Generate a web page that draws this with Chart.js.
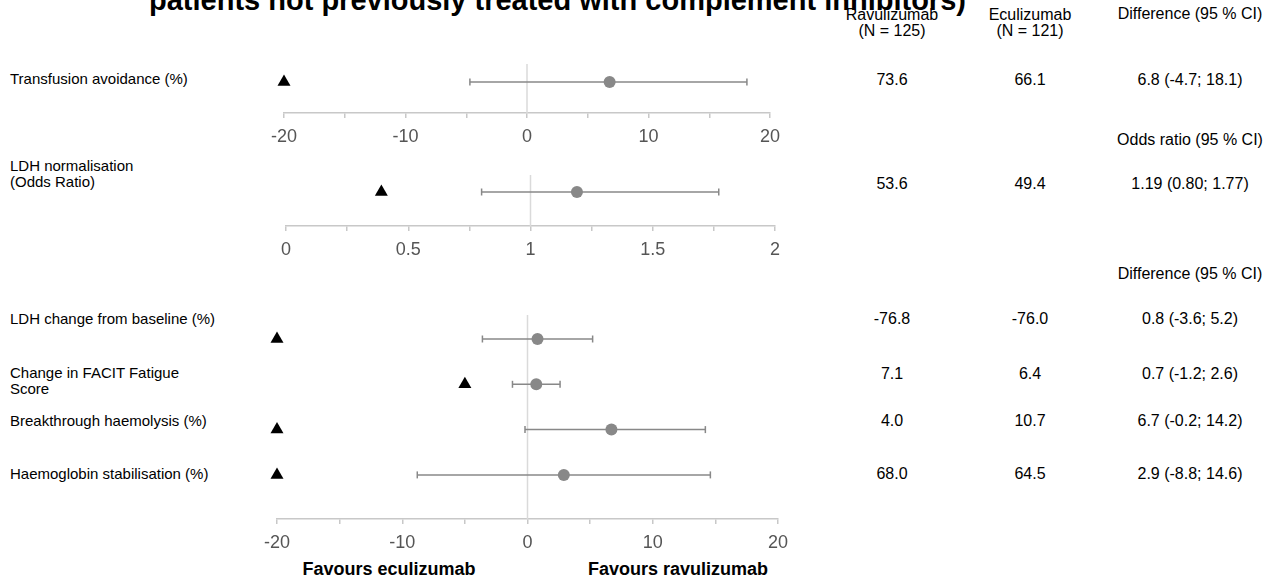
<!DOCTYPE html>
<html>
<head>
<meta charset="utf-8">
<script src="https://cdn.jsdelivr.net/npm/chart.js@4.4.1/dist/chart.umd.min.js"></script>
<style>
  body { margin: 0; width: 1263px; height: 579px; overflow: hidden; background: #fff; position: relative;
         font-family: "Liberation Sans", Arial, sans-serif; color: #000; }
  .txt { position: absolute; white-space: nowrap; font-size: 15px; line-height: 16px; }
  .mid { transform: translateX(-50%); text-align: center; font-size: 16px; }
  .bold { font-weight: bold; }
  canvas { position: absolute; }
  #title { position: absolute; left: 149px; top: -14px; font-size: 29px; line-height: 29px; font-weight: bold; white-space: nowrap; }
</style>
</head>
<body>
<div id="title">patients not previously treated with complement inhibitors)</div>
<canvas id="panel0"></canvas>
<canvas id="panel1"></canvas>
<canvas id="panel2"></canvas>
<script>
/* Data */
var outcomes = ['Transfusion avoidance (%)', 'LDH normalisation\n(Odds Ratio)', 'LDH change from baseline (%)',
  'Change in FACIT Fatigue\nScore', 'Breakthrough haemolysis (%)', 'Haemoglobin stabilisation (%)'];
var ravulizumab = [73.6, 53.6, -76.8, 7.1, 4.0, 68.0];
var eculizumab = [66.1, 49.4, -76.0, 6.4, 10.7, 64.5];
var estimates = [6.8, 1.19, 0.8, 0.7, 6.7, 2.9];
var ciLower = [-4.7, 0.80, -3.6, -1.2, -0.2, -8.8];
var ciUpper = [18.1, 1.77, 5.2, 2.6, 14.2, 14.6];
var margins = [-20, 0.39, -20, -5, -20, -20];
var decimals = [1, 2, 1, 1, 1, 1];

var diffTicks = [-20, -10, 0, 10, 20];
var oddsTicks = [0, 0.5, 1, 1.5, 2];
var columnHeads = ['Ravulizumab\n(N = 125)', 'Eculizumab\n(N = 121)'];
var effectHeads = ['Difference (95 % CI)', 'Odds ratio (95 % CI)', 'Difference (95 % CI)'];

/* Panels: which outcomes go in which plot */
var panelRows = [[0], [1], [2, 3, 4, 5]];
var panelTicks = [diffTicks, oddsTicks, diffTicks];
var panelStep = [5, 0.25, 5];
var panelRef = [0, 1, 0];

/* Layout (pixels) */
var rowPitch = 45.3;
var panelBox = [
  { left: 284, right: 770, top: 64, axis: 113, firstRow: 82 },
  { left: 286, right: 775, top: 175, axis: 226, firstRow: 192 },
  { left: 277, right: 778, top: 315, axis: 519, firstRow: 339 }
];
var labelY = [79, 174, 319, 381, 421, 474];
var valueY = [80, 184, 319, 374, 421, 474];
var colX = [892, 1030, 1190];
var effectHeadY = [14, 140, 274];
var AXIS_H = 35;

function addText(str, x, y, cls) {
  var d = document.createElement('div');
  d.className = 'txt ' + (cls || '');
  d.innerHTML = str.split('\n').join('<br>');
  var lines = str.split('\n').length;
  d.style.left = x + 'px';
  d.style.top = (y - 8 - (lines - 1) * 8) + 'px';
  document.body.appendChild(d);
  return d;
}

function fmt(v, d) { return v.toFixed(d); }

/* Left labels and right hand table */
outcomes.forEach(function (name, i) {
  addText(name, 10, labelY[i]);
  addText(fmt(ravulizumab[i], 1), colX[0], valueY[i], 'mid');
  addText(fmt(eculizumab[i], 1), colX[1], valueY[i], 'mid');
  var d = decimals[i];
  addText(fmt(estimates[i], d) + ' (' + fmt(ciLower[i], d) + '; ' + fmt(ciUpper[i], d) + ')', colX[2], valueY[i], 'mid');
});
addText(columnHeads[0], colX[0], 23, 'mid');
addText(columnHeads[1], colX[1], 23, 'mid');
effectHeads.forEach(function (h, i) { addText(h, colX[2], effectHeadY[i], 'mid'); });
addText('Favours eculizumab', 389, 569, 'mid bold').style.fontSize = '18px';
addText('Favours ravulizumab', 678, 569, 'mid bold').style.fontSize = '18px';

function createPanel(p) {
  var box = panelBox[p];
  var rows = panelRows[p];
  var yMin = -(box.firstRow - box.top) / rowPitch;
  var yMax = (box.axis - box.firstRow) / rowPitch;
  var ticks = panelTicks[p];
  var pad = 40;

  var canvas = document.getElementById('panel' + p);
  canvas.width = box.right - box.left + 2 * pad;
  canvas.height = 10 + (box.axis - box.top) + AXIS_H;
  canvas.style.left = (box.left - pad) + 'px';
  canvas.style.top = (box.top - 10) + 'px';

  var datasets = [];
  datasets.push({
    type: 'scatter', order: 1, clip: false,
    data: rows.map(function (r, k) { return { x: margins[r], y: k }; }),
    pointStyle: 'triangle', pointRadius: 7.5, backgroundColor: '#000', borderWidth: 0
  });
  datasets.push({
    type: 'scatter', order: 1, clip: false,
    data: rows.map(function (r, k) { return { x: estimates[r], y: k }; }),
    pointStyle: 'circle', pointRadius: 6, backgroundColor: '#888', borderWidth: 0
  });
  rows.forEach(function (r, k) {
    datasets.push({
      type: 'line', order: 2, clip: false,
      data: [{ x: ciLower[r], y: k }, { x: ciUpper[r], y: k }],
      borderColor: '#888', borderWidth: 1.5,
      pointStyle: 'line', pointRotation: 90, pointRadius: 3.5,
      pointBorderColor: '#888', pointBorderWidth: 1.5
    });
  });
  datasets.push({
    type: 'line', order: 3,
    data: [{ x: panelRef[p], y: yMin }, { x: panelRef[p], y: yMax }],
    borderColor: '#dadada', borderWidth: 1.5, pointRadius: 0
  });

  return new Chart(canvas.getContext('2d'), {
    type: 'scatter',
    data: { datasets: datasets },
    options: {
      responsive: false,
      animation: false,
      events: [],
      layout: { padding: { left: pad, right: pad, top: 10, bottom: 0 } },
      plugins: { legend: { display: false }, tooltip: { enabled: false } },
      scales: {
        x: {
          type: 'linear',
          min: ticks[0], max: ticks[ticks.length - 1],
          afterFit: function (scale) { scale.height = AXIS_H; },
          grid: { drawOnChartArea: false, tickLength: 5, color: '#c8c8c8', lineWidth: 1.5 },
          border: { color: '#c8c8c8', width: 1.5 },
          ticks: {
            stepSize: panelStep[p], padding: 8, color: '#555', maxRotation: 0, autoSkip: false,
            font: { family: '"Liberation Sans", Arial, sans-serif', size: 18 },
            callback: function (v) {
              for (var i = 0; i < ticks.length; i++) {
                if (Math.abs(ticks[i] - v) < 1e-6) return String(ticks[i]);
              }
              return '';
            }
          }
        },
        y: { type: 'linear', display: false, reverse: true, min: yMin, max: yMax }
      }
    }
  });
}

createPanel(0);
createPanel(1);
createPanel(2);
</script>
</body>
</html>
